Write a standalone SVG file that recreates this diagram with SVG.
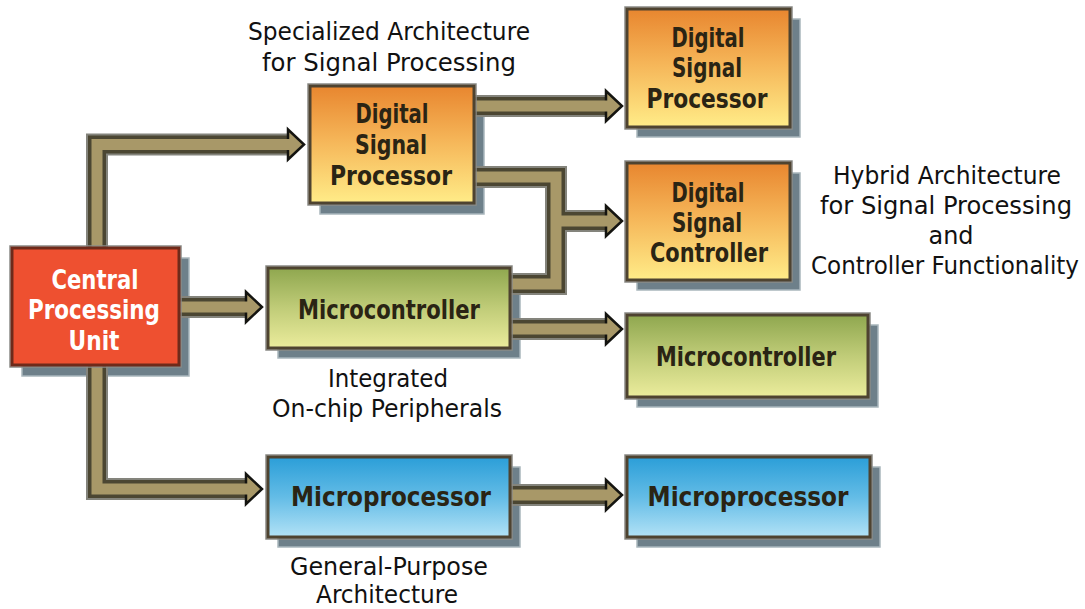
<svg xmlns="http://www.w3.org/2000/svg" xmlns:xlink="http://www.w3.org/1999/xlink" width="1085" height="609" viewBox="0 0 1085 609">
<defs>
<linearGradient id="gOr" x1="0" y1="0" x2="0" y2="1"><stop offset="0" stop-color="#e8862f"/><stop offset="0.45" stop-color="#f5b457"/><stop offset="1" stop-color="#ffec88"/></linearGradient>
<linearGradient id="gGr" x1="0" y1="0" x2="0" y2="1"><stop offset="0" stop-color="#8fa74f"/><stop offset="0.5" stop-color="#c0cc78"/><stop offset="1" stop-color="#ebec9c"/></linearGradient>
<linearGradient id="gBl" x1="0" y1="0" x2="0" y2="1"><stop offset="0" stop-color="#2b9ed8"/><stop offset="0.5" stop-color="#63bce6"/><stop offset="1" stop-color="#b2e2f6"/></linearGradient>
<path id="pipes" d="M97,252 V144.5 H292 M97,362 V489 H250 M176,307 H250 M471,106 H610 M471,177 H556 V284 H507 M556,221 H610 M507,329 H610 M507,495 H610"/>
</defs>
<style>
.sh{fill:#6e808a;stroke:#a9b6bc;stroke-width:1.5}
.bx{stroke:#4e4330;stroke-width:3}
.ol{fill:none;stroke:#8a8a86;stroke-width:1.5}
.p1{fill:none;stroke:#84847c;stroke-width:22;stroke-linejoin:miter}
.p2{fill:none;stroke:#4b4632;stroke-width:18;stroke-linejoin:miter}
.p3{fill:none;stroke:#a89868;stroke-width:11;stroke-linejoin:miter}
.ah{fill:#a89868;stroke:#141410;stroke-width:2.5;stroke-linejoin:miter}
.t{font-family:"Liberation Sans Narrow","DejaVu Sans Condensed","Liberation Sans",sans-serif;font-size:25px;text-anchor:middle;fill:#111}
.n{font-family:"Liberation Sans Narrow","DejaVu Sans Condensed","Liberation Sans",sans-serif;font-size:26px;text-anchor:middle;fill:#2a2414;font-weight:bold}
.w{fill:#fff}
</style>

<g id="shadows">
<rect class="sh" x="22" y="258" width="167" height="118"/>
<rect class="sh" x="320" y="96" width="164" height="118"/>
<rect class="sh" x="637" y="19" width="163" height="118"/>
<rect class="sh" x="637" y="173" width="163" height="117"/>
<rect class="sh" x="278" y="278" width="242" height="80"/>
<rect class="sh" x="637" y="325" width="241" height="82"/>
<rect class="sh" x="278" y="467" width="242" height="80"/>
<rect class="sh" x="637" y="467" width="243" height="80"/>
</g>

<g id="connectors">
<use xlink:href="#pipes" class="p1"/>
<use xlink:href="#pipes" class="p2"/>
<polygon class="ah" points="288,129.5 304,144.5 288,159.5"/>
<polygon class="ah" points="246,292 262,307 246,322"/>
<polygon class="ah" points="246,474 262,489 246,504"/>
<polygon class="ah" points="606,91 622,106 606,121"/>
<polygon class="ah" points="606,206 622,221 606,236"/>
<polygon class="ah" points="606,314 622,329 606,344"/>
<polygon class="ah" points="606,480 622,495 606,510"/>
<path class="p3" d="M97,252 V144.5 H294 M97,362 V489 H252 M176,307 H252 M471,106 H612 M471,177 H556 V284 H507 M556,221 H612 M507,329 H612 M507,495 H612"/>
</g>

<g id="cpu">
<rect class="ol" x="10" y="246" width="171" height="121"/>
<rect x="12" y="248" width="167" height="117" fill="#ee5030" stroke="#6e2a1a" stroke-width="3"/>
<text class="n w" x="95" y="289" textLength="87" lengthAdjust="spacingAndGlyphs">Central</text>
<text class="n w" x="94" y="319" textLength="132" lengthAdjust="spacingAndGlyphs">Processing</text>
<text class="n w" x="94" y="350" textLength="51" lengthAdjust="spacingAndGlyphs">Unit</text>
</g>

<g id="dsp1">
<rect class="ol" x="308" y="84" width="168" height="121"/>
<rect class="bx" x="310" y="86" width="164" height="117" fill="url(#gOr)"/>
<text class="n" x="392" y="123" textLength="73" lengthAdjust="spacingAndGlyphs">Digital</text>
<text class="n" x="391" y="154" textLength="72" lengthAdjust="spacingAndGlyphs">Signal</text>
<text class="n" x="391" y="185" textLength="122" lengthAdjust="spacingAndGlyphs">Processor</text>
</g>

<g id="dsp2">
<rect class="ol" x="625" y="7" width="167" height="122"/>
<rect class="bx" x="627" y="9" width="163" height="118" fill="url(#gOr)"/>
<text class="n" x="708" y="47" textLength="73" lengthAdjust="spacingAndGlyphs">Digital</text>
<text class="n" x="707" y="77" textLength="70" lengthAdjust="spacingAndGlyphs">Signal</text>
<text class="n" x="707" y="108" textLength="121" lengthAdjust="spacingAndGlyphs">Processor</text>
</g>

<g id="dsc">
<rect class="ol" x="625" y="161" width="167" height="121"/>
<rect class="bx" x="627" y="163" width="163" height="117" fill="url(#gOr)"/>
<text class="n" x="708" y="202" textLength="73" lengthAdjust="spacingAndGlyphs">Digital</text>
<text class="n" x="707" y="232" textLength="70" lengthAdjust="spacingAndGlyphs">Signal</text>
<text class="n" x="709" y="262" textLength="118" lengthAdjust="spacingAndGlyphs">Controller</text>
</g>

<g id="mc1">
<rect class="ol" x="266" y="266" width="246" height="84"/>
<rect class="bx" x="268" y="268" width="242" height="80" fill="url(#gGr)"/>
<text class="n" x="389" y="319" textLength="182" lengthAdjust="spacingAndGlyphs">Microcontroller</text>
</g>

<g id="mc2">
<rect class="ol" x="625" y="313" width="245" height="86"/>
<rect class="bx" x="627" y="315" width="241" height="82" fill="url(#gGr)"/>
<text class="n" x="746" y="366" textLength="180" lengthAdjust="spacingAndGlyphs">Microcontroller</text>
</g>

<g id="mp1">
<rect class="ol" x="266" y="455" width="246" height="84"/>
<rect class="bx" x="268" y="457" width="242" height="80" fill="url(#gBl)"/>
<text class="n" x="391" y="506" textLength="200" lengthAdjust="spacingAndGlyphs">Microprocessor</text>
</g>

<g id="mp2">
<rect class="ol" x="625" y="455" width="247" height="84"/>
<rect class="bx" x="627" y="457" width="243" height="80" fill="url(#gBl)"/>
<text class="n" x="748" y="506" textLength="201" lengthAdjust="spacingAndGlyphs">Microprocessor</text>
</g>

<g id="labels">
<text class="t" x="389" y="40" textLength="282" lengthAdjust="spacingAndGlyphs">Specialized Architecture</text>
<text class="t" x="389" y="71" textLength="254" lengthAdjust="spacingAndGlyphs">for Signal Processing</text>
<text class="t" x="388" y="387" textLength="120" lengthAdjust="spacingAndGlyphs">Integrated</text>
<text class="t" x="387" y="417" textLength="230" lengthAdjust="spacingAndGlyphs">On-chip Peripherals</text>
<text class="t" x="389" y="575" textLength="198" lengthAdjust="spacingAndGlyphs">General-Purpose</text>
<text class="t" x="387" y="603" textLength="142" lengthAdjust="spacingAndGlyphs">Architecture</text>
<text class="t" x="947" y="184" textLength="228" lengthAdjust="spacingAndGlyphs">Hybrid Architecture</text>
<text class="t" x="946" y="214" textLength="252" lengthAdjust="spacingAndGlyphs">for Signal Processing</text>
<text class="t" x="951" y="244" textLength="45" lengthAdjust="spacingAndGlyphs">and</text>
<text class="t" x="945" y="274" textLength="268" lengthAdjust="spacingAndGlyphs">Controller Functionality</text>
</g>
</svg>
